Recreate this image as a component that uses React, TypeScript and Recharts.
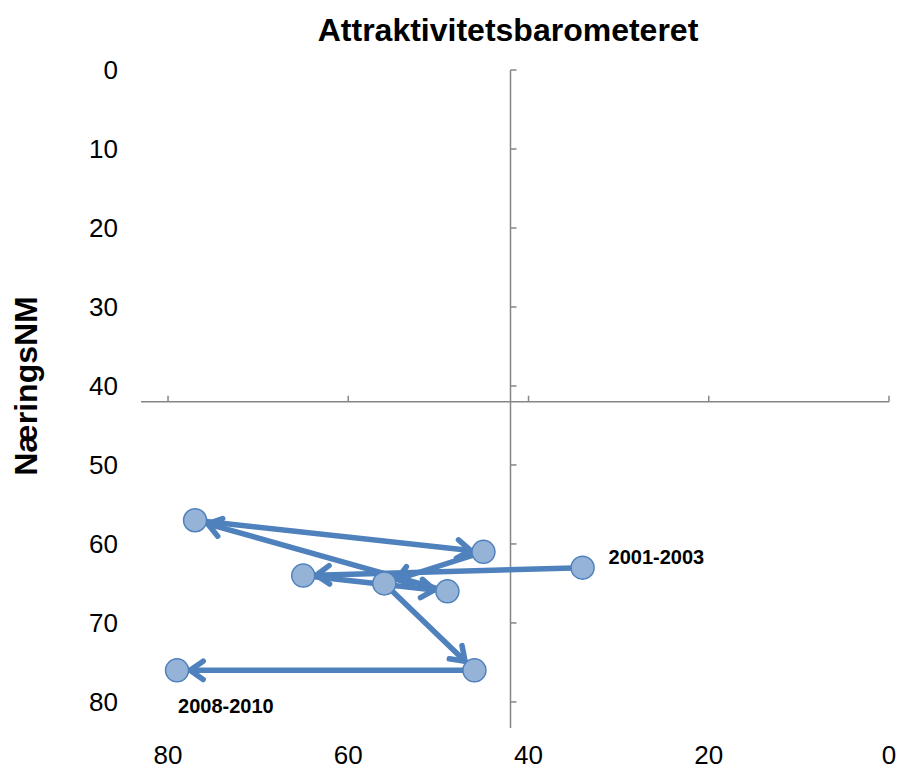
import React from "react";
import { ComposedChart, ReferenceLine, Scatter, XAxis, YAxis } from "recharts";

// axis ticks
const xTicks = [0, 20, 40, 60, 80];
const yTicks = [0, 10, 20, 30, 40, 50, 60, 70, 80];

// rolling 3-year periods, in the order the arrows follow
const periodLabels = ["2001-2003", "", "", "", "", "", "", "2008-2010"];
const attraktivitet = [34, 65, 49, 77, 45, 56, 46, 79];
const naeringsNM = [63, 64, 66, 57, 61, 65, 76, 76];

// the two axes cross each other at this value
const crossAt = 42;

const FONT = '"Liberation Sans", Arial, sans-serif';
const BLUE = "#4F81BD";
const AXIS = "#868686";

const pathData = attraktivitet.map((x, i) => ({
  x,
  y: naeringsNM[i],
  label: periodLabels[i],
}));
const yTickMarks = yTicks.map((y) => ({ x: crossAt, y }));
const xTickMarks = xTicks.map((x) => ({ x, y: crossAt }));

function ArrowPath(props: any) {
  const pts = (props.points || []).filter((p: any) => p && p.x != null && p.y != null);
  const r = 13;
  const wing = 16;
  const spread = (35 * Math.PI) / 180;
  const items = [];
  for (let i = 1; i < pts.length; i++) {
    const a = pts[i - 1];
    const b = pts[i];
    const dx = b.x - a.x;
    const dy = b.y - a.y;
    const len = Math.hypot(dx, dy) || 1;
    const ux = dx / len;
    const uy = dy / len;
    const tx = b.x - ux * r;
    const ty = b.y - uy * r;
    const back = Math.atan2(-uy, -ux);
    const w1 = back + spread;
    const w2 = back - spread;
    items.push(
      <g key={i}>
        <line x1={a.x} y1={a.y} x2={tx} y2={ty} stroke={BLUE} strokeWidth={5.5} strokeLinecap="round" />
        <path
          d={`M${tx + Math.cos(w1) * wing},${ty + Math.sin(w1) * wing} L${tx},${ty} L${tx + Math.cos(w2) * wing},${ty + Math.sin(w2) * wing}`}
          fill="none"
          stroke={BLUE}
          strokeWidth={5.5}
          strokeLinecap="round"
          strokeLinejoin="round"
        />
      </g>
    );
  }
  return <g>{items}</g>;
}

function PointShape(props: any) {
  const { cx, cy, payload } = props;
  const label = payload?.label;
  const first = label === periodLabels[0];
  return (
    <g>
      <circle cx={cx} cy={cy} r={11.5} fill="#95B3D7" stroke={BLUE} strokeWidth={1.5} />
      {label ? (
        <text
          x={first ? cx + 26 : cx + 1}
          y={first ? cy - 4 : cy + 43}
          fontFamily={FONT}
          fontWeight="bold"
          fontSize={20}
          fill="#000"
        >
          {label}
        </text>
      ) : null}
    </g>
  );
}

function YTickMark(props: any) {
  const { cx, cy } = props;
  return <line x1={cx} y1={cy} x2={cx + 6} y2={cy} stroke={AXIS} strokeWidth={1.5} />;
}

function XTickMark(props: any) {
  const { cx, cy } = props;
  return <line x1={cx} y1={cy} x2={cx} y2={cy - 6} stroke={AXIS} strokeWidth={1.5} />;
}

function YTick(props: any) {
  const { x, y, payload } = props;
  return (
    <text x={x} y={y} dy="0.355em" textAnchor="end" fontFamily={FONT} fontSize={26} fill="#000">
      {payload.value}
    </text>
  );
}

function XTick(props: any) {
  const { x, y, payload } = props;
  return (
    <text x={x} y={y} dy="0.71em" textAnchor="middle" fontFamily={FONT} fontSize={26} fill="#000">
      {payload.value}
    </text>
  );
}

export default function App() {
  return (
    <div style={{ position: "absolute", left: 0, top: 0, width: 898, height: 769, background: "#fff" }}>
      <ComposedChart
        width={898}
        height={769}
        margin={{ top: 70, right: 9, bottom: 0, left: 81 }}
      >
        <XAxis
          dataKey="x"
          type="number"
          domain={[0, 83]}
          reversed
          ticks={xTicks}
          interval={0}
          axisLine={false}
          tickLine={false}
          tickMargin={12}
          height={41}
          tick={<XTick />}
        />
        <YAxis
          dataKey="y"
          type="number"
          domain={[0, 83.3]}
          reversed
          ticks={yTicks}
          interval={0}
          axisLine={false}
          tickLine={false}
          tickMargin={17}
          width={60}
          tick={<YTick />}
        />
        <ReferenceLine x={crossAt} stroke={AXIS} strokeWidth={1.5} />
        <ReferenceLine y={crossAt} stroke={AXIS} strokeWidth={1.5} />
        <Scatter data={yTickMarks} shape={<YTickMark />} isAnimationActive={false} legendType="none" />
        <Scatter data={xTickMarks} shape={<XTickMark />} isAnimationActive={false} legendType="none" />
        <Scatter
          data={pathData}
          line={(p: any) => <ArrowPath {...p} />}
          lineType="joint"
          shape={<PointShape />}
          isAnimationActive={false}
          legendType="none"
        />
      </ComposedChart>
      <svg
        width={898}
        height={769}
        style={{ position: "absolute", left: 0, top: 0, pointerEvents: "none" }}
      >
        <text x={508} y={41} textAnchor="middle" fontFamily={FONT} fontWeight="bold" fontSize={32} fill="#000">
          Attraktivitetsbarometeret
        </text>
        <text
          transform="translate(37,386) rotate(-90)"
          textAnchor="middle"
          fontFamily={FONT}
          fontWeight="bold"
          fontSize={32}
          fill="#000"
        >
          NæringsNM
        </text>
      </svg>
    </div>
  );
}
